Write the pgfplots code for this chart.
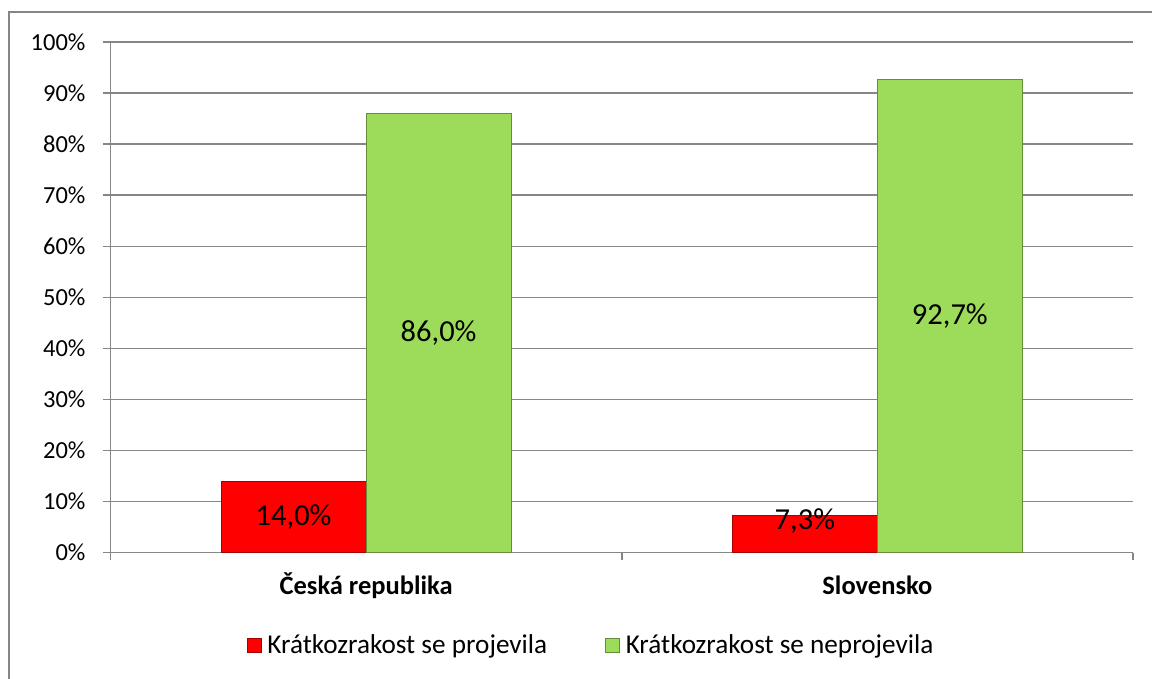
\documentclass[border=0pt]{standalone}
\usepackage{pgfplots}
\pgfplotsset{compat=1.18}
\usepackage{fontspec}
\setmainfont{Carlito}
\definecolor{gridc}{HTML}{868686}
\definecolor{redbar}{HTML}{FF0000}
\definecolor{greenbar}{HTML}{9DDB5A}
\begin{document}
\begin{tikzpicture}
\useasboundingbox (0pt,0pt) rectangle (1152pt,678pt);
\draw[gridc, line width=1.5pt] (9pt,-5pt) -- (9pt,666pt) -- (1160pt,666pt);
\begin{axis}[
  at={(110.5pt,125.3pt)}, anchor=south west,
  scale only axis, width=1022.5pt, height=510.7pt,
  ybar=0pt, bar width=145pt,
  xmin=-0.5, xmax=1.5, ymin=0, ymax=100,
  axis x line*=bottom, axis y line*=left,
  axis line style={gridc, line width=1.5pt},
  tick align=outside,
  tick style={gridc, line width=1.5pt},
  major tick length=7.5pt,
  ytick={0,10,...,100},
  yticklabels={0\%,10\%,20\%,30\%,40\%,50\%,60\%,70\%,80\%,90\%,100\%},
  yticklabel style={font=\fontsize{24.5}{28}\selectfont, xshift=-14pt},
  ymajorgrids, grid style={gridc, line width=1.5pt},
  xtick={-0.5,0.5,1.5}, xticklabels={},
  extra x ticks={0,1},
  extra x tick labels={\textbf{Česká republika},\textbf{Slovensko}},
  extra x tick style={major tick length=0pt, grid=none, tick style={draw=none},
     xticklabel style={font=\fontsize{26.5}{30}\selectfont\bfseries, anchor=base, yshift=-42pt}},
  legend style={at={(0.470,-0.1807)}, anchor=center, draw=none, fill=none,
     legend columns=2, font=\fontsize{27.2}{31}\selectfont,
     /tikz/every even column/.append style={column sep=56pt},
     /tikz/every odd column/.append style={column sep=4pt},
     legend cell align=left},
  legend image code/.code={\draw[#1, line width=0.6pt] (0pt,-7pt) rectangle (14pt,7pt);},
  nodes near coords,
  point meta=explicit symbolic,
  visualization depends on={y \as \rawy},
  every node near coord/.append style={anchor=center, font=\fontsize{30.5}{34}\selectfont, text=black,
     yshift={-(\rawy<10 ? 5.5 : 2.5535*\rawy)*1pt}},
]
\addplot[fill=redbar, draw=red!65!black, line width=0.8pt] coordinates {(0,14.0) [14,0\%] (1,7.3) [7,3\%]};
\addplot[fill=greenbar, draw=greenbar!65!black, line width=0.8pt] coordinates {(0,86.0) [86,0\%] (1,92.7) [92,7\%]};
\legend{Krátkozrakost se projevila, Krátkozrakost se neprojevila}
\end{axis}
\end{tikzpicture}
\end{document}
